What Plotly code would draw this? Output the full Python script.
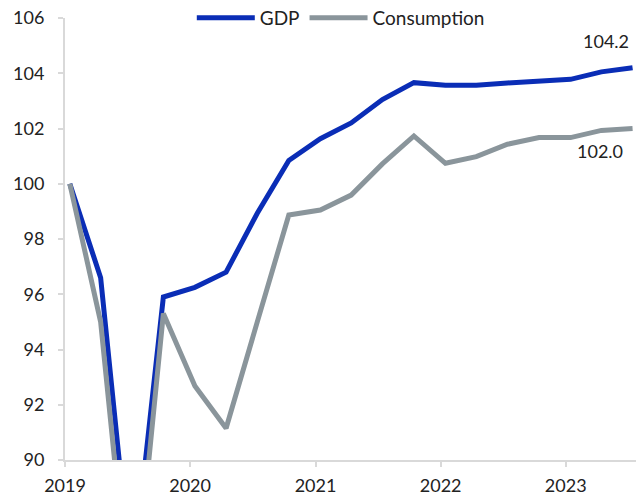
import plotly.graph_objects as go

# quarterly observations, index = 100 at start
dates = [
    "2019-01-15", "2019-04-15", "2019-07-15", "2019-10-15",
    "2020-01-15", "2020-04-15", "2020-07-15", "2020-10-15",
    "2021-01-15", "2021-04-15", "2021-07-15", "2021-10-15",
    "2022-01-15", "2022-04-15", "2022-07-15", "2022-10-15",
    "2023-01-15", "2023-04-15", "2023-07-15",
]
gdp = [100.0, 96.6, 85.5, 95.9, 96.25, 96.8, 98.93, 100.84, 101.63, 102.2,
       103.05, 103.66, 103.57, 103.57, 103.65, 103.72, 103.78, 104.05, 104.2]
consumption = [100.0, 95.0, 83.8, 95.3, 92.68, 91.15, 95.0, 98.87, 99.05, 99.59,
               100.72, 101.73, 100.74, 100.98, 101.43, 101.67, 101.67, 101.93, 102.0]

year_ticks = ["2019-01-01", "2020-01-01", "2021-01-01", "2022-01-01", "2023-01-01"]
year_labels = ["2019", "2020", "2021", "2022", "2023"]
y_ticks = [90, 92, 94, 96, 98, 100, 102, 104, 106]

BLUE = "#0a2db6"
GREY = "#8a959b"
AXIS = "#d9d9d9"
FONT = "Lato"

fig = go.Figure()
fig.add_trace(go.Scatter(x=dates, y=gdp, name="GDP", mode="lines",
                         line=dict(color=BLUE, width=5)))
fig.add_trace(go.Scatter(x=dates, y=consumption, name="Consumption", mode="lines",
                         line=dict(color=GREY, width=5)))

# end-of-series value labels
fig.add_annotation(x=dates[-1], y=gdp[-1], text=f"{gdp[-1]:.1f}", showarrow=False,
                   xanchor="right", yanchor="bottom", yshift=14, xshift=-2,
                   font=dict(size=18, color="#222"))
fig.add_annotation(x=dates[-1], y=consumption[-1], text=f"{consumption[-1]:.1f}",
                   showarrow=False, xanchor="right", yanchor="top", yshift=-9,
                   xshift=-8, font=dict(size=18, color="#222"))

fig.update_layout(
    width=642, height=499,
    margin=dict(l=65, r=6, t=18, b=39, autoexpand=False),
    paper_bgcolor="white", plot_bgcolor="white",
    font=dict(family=FONT, size=18, color="#222"),
    showlegend=True,
    legend=dict(orientation="h", x=0.483, xanchor="center", y=1.0, yanchor="middle",
                bgcolor="rgba(0,0,0,0)", font=dict(size=19), itemwidth=58),
    xaxis=dict(
        type="date", range=["2019-01-01", "2023-07-25"],
        tickvals=year_ticks, ticktext=year_labels,
        showline=True, linecolor=AXIS, linewidth=2,
        ticks="outside", ticklen=5, tickcolor=AXIS, tickwidth=2,
        showgrid=False, zeroline=False, ticklabelstandoff=3,
        ticklabeloverflow="allow",
    ),
    yaxis=dict(
        range=[90, 106], tickvals=y_ticks,
        showline=True, linecolor=AXIS, linewidth=2,
        ticks="outside", ticklen=5, tickcolor=AXIS, tickwidth=2,
        showgrid=False, zeroline=False, ticklabelstandoff=10,
        ticklabeloverflow="allow",
    ),
)

# drop the default 8px body margin so the figure sits at the page corner
fig.write_html("out.html", config={"displayModeBar": False},
               post_script="document.body.style.margin='0';")
